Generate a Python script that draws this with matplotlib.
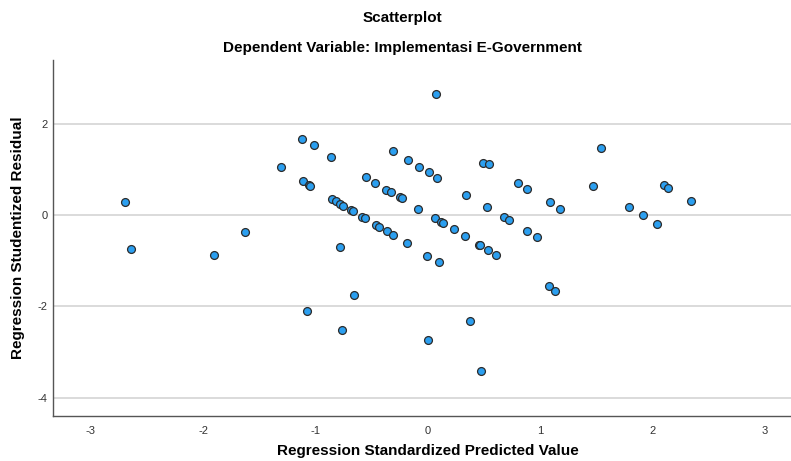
import matplotlib.pyplot as plt
import numpy as np

# standardized predicted value (x) and studentized residual (y)
pred = [-2.695, -2.641, -1.903, -1.627, -1.307, -1.124, -1.009, -0.862, -1.115, -1.062,
        -1.049, -0.856, -0.813, -0.783, -0.758, -0.684, -0.663, -0.583, -0.561, -0.464,
        -0.439, -0.366, -0.313, -0.186, -0.779, -0.654, -1.078, -0.761, -0.550, -0.466,
        -0.368, -0.328, -0.250, -0.233, -0.313, -0.174, -0.083, 0.012, 0.079, -0.085,
        0.342, 0.493, 0.541, 0.526, 0.800, 0.880, 1.085, 1.180, 0.068, 0.121,
        0.137, 0.233, 0.328, 0.676, 0.722, 0.880, 0.974, -0.010, 0.099, 0.455,
        0.464, 0.531, 0.609, 1.080, 1.130, 0.372, 0.004, 0.476, 0.070, 1.472,
        1.541, 1.792, 1.912, 2.036, 2.101, 2.139, 2.340]
resid = [0.287, -0.743, -0.874, -0.370, 1.054, 1.674, 1.547, 1.273, 0.751, 0.653,
         0.637, 0.346, 0.304, 0.250, 0.206, 0.105, 0.083, -0.046, -0.070, -0.219,
         -0.250, -0.348, -0.429, -0.611, -0.705, -1.744, -2.101, -2.517, 0.835, 0.699,
         0.550, 0.499, 0.392, 0.379, 1.409, 1.218, 1.058, 0.944, 0.813, 0.145,
         0.451, 1.135, 1.113, 0.184, 0.703, 0.572, 0.294, 0.140, -0.070, -0.145,
         -0.180, -0.311, -0.453, -0.042, -0.107, -0.337, -0.484, -0.892, -1.027, -0.644,
         -0.662, -0.771, -0.867, -1.542, -1.656, -2.320, -2.729, -3.409, 2.659, 0.637,
         1.463, 0.171, -0.004, -0.195, 0.659, 0.589, 0.302]

xticks = [-3, -2, -1, 0, 1, 2, 3]
yticks = [-4, -2, 0, 2]

plt.rcParams['font.family'] = ['Liberation Sans', 'DejaVu Sans']

fig = plt.figure(figsize=(7.91, 4.61), dpi=100)
ax = fig.add_axes([0.067, 0.0976, 0.933, 0.7722])

ax.scatter(pred, resid, s=32, c='#2b9ff0', edgecolors='#2b2b2b', linewidths=0.9, zorder=3)

ax.set_xlim(-3.336, 3.232)
ax.set_ylim(-4.401, 3.398)
ax.set_xticks(xticks)
ax.set_yticks(yticks)
ax.set_xticklabels([str(t) for t in xticks])
ax.set_yticklabels([str(t) for t in yticks])
ax.tick_params(axis='both', labelsize=8, labelcolor='#333333', length=0)
ax.tick_params(axis='x', pad=7)
ax.tick_params(axis='y', pad=4)
ax.yaxis.grid(True, color='#d4d4d4', linewidth=1.2, zorder=0)
ax.set_axisbelow(True)

for side in ['top', 'right']:
    ax.spines[side].set_visible(False)
for side in ['left', 'bottom']:
    ax.spines[side].set_color('#555555')
    ax.spines[side].set_linewidth(1.0)

fig.text(402 / 791, 1 - 18 / 461, 'Scatterplot', ha='center', va='center',
         fontsize=11, fontweight='bold')
fig.text(402 / 791, 1 - 48 / 461, 'Dependent Variable: Implementasi E-Government',
         ha='center', va='center', fontsize=11, fontweight='bold')
fig.text(428 / 791, 1 - 451 / 461, 'Regression Standardized Predicted Value',
         ha='center', va='center', fontsize=11, fontweight='bold')
fig.text(18 / 791, 1 - 238 / 461, 'Regression Studentized Residual', ha='center',
         va='center', rotation=90, fontsize=11, fontweight='bold')

fig.savefig('out.png', dpi=100)
